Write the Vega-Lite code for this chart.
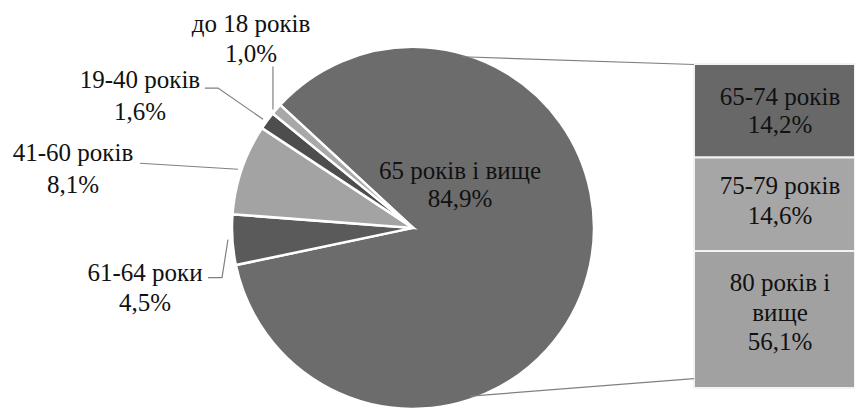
{
  "$schema": "https://vega.github.io/schema/vega-lite/v6.json",
  "width": 855,
  "height": 410,
  "padding": 0,
  "autosize": {"type": "fit", "contains": "padding"},
  "background": "white",
  "config": {
    "view": {"stroke": null},
    "locale": {"number": {"decimal": ",", "thousands": " ", "grouping": [3], "currency": ["", ""]}},
    "text": {"font": "Times New Roman, Liberation Serif, serif", "fontSize": 25, "color": "#111111", "baseline": "alphabetic", "align": "center"}
  },
  "datasets": {
    "pie": [
      {"group": "65 років і вище", "share": 0.849, "k": 1, "lx": 26.1, "ly": 27.8, "vy": 11.7},
      {"group": "61-64 роки", "share": 0.045, "k": 2, "lx": -148.9, "ly": -30.0, "vy": -47.2},
      {"group": "41-60 років", "share": 0.081, "k": 3, "lx": -188.9, "ly": 37.8, "vy": 20.0},
      {"group": "19-40 років", "share": 0.016, "k": 4, "lx": -151.7, "ly": 79.4, "vy": 61.1},
      {"group": "до 18 років", "share": 0.010, "k": 5, "lx": -90.0, "ly": 111.1, "vy": 94.4}
    ],
    "bar": [
      {"group": "65-74 років", "share": 0.142, "k": 1, "lx": 203.9, "ly": 70.0, "vy": 53.9},
      {"group": "75-79 років", "share": 0.146, "k": 2, "lx": 203.9, "ly": 19.4, "vy": 2.2},
      {"group": "80 років і\nвище", "share": 0.561, "k": 3, "lx": 203.9, "ly": -36.1, "vy": -69.4}
    ],
    "leaders": [
      {"line": "до 18", "k": 1, "x": -77.8, "y": 91.7},
      {"line": "до 18", "k": 2, "x": -77.8, "y": 67.2},
      {"line": "19-40", "k": 1, "x": -115.6, "y": 79.4},
      {"line": "19-40", "k": 2, "x": -108.3, "y": 79.4},
      {"line": "19-40", "k": 3, "x": -83.3, "y": 61.7},
      {"line": "41-60", "k": 1, "x": -151.7, "y": 36.7},
      {"line": "41-60", "k": 2, "x": -97.2, "y": 33.3},
      {"line": "61-64", "k": 1, "x": -113.9, "y": -28.3},
      {"line": "61-64", "k": 2, "x": -106.1, "y": -28.3},
      {"line": "61-64", "k": 3, "x": -102.8, "y": -6.7},
      {"line": "top", "k": 1, "x": 27.2, "y": 97.2},
      {"line": "top", "k": 2, "x": 156.1, "y": 92.8},
      {"line": "bottom", "k": 1, "x": 31.7, "y": -95.6},
      {"line": "bottom", "k": 2, "x": 156.1, "y": -85.6}
    ]
  },
  "layer": [
    {
      "data": {"name": "bar"},
      "transform": [
        {"stack": "share", "groupby": [], "sort": [{"field": "k", "order": "ascending"}], "as": ["s0", "s1"]}
      ],
      "mark": {"type": "rect", "stroke": "#f2f2f2", "strokeWidth": 2, "clip": true},
      "encoding": {
        "x": {"datum": 156.1, "type": "quantitative", "scale": {"domain": [-229.44, 245.56], "nice": false, "zero": false}, "axis": null},
        "x2": {"datum": 245.56},
        "y": {
          "field": "s0", "type": "quantitative",
          "scale": {"domain": [0, 0.142, 0.288, 0.849], "range": [64, 157.5, 251, 388], "nice": false, "zero": false},
          "axis": null
        },
        "y2": {"field": "s1"},
        "color": {
          "field": "group", "type": "nominal", "legend": null,
          "scale": {"domain": ["65-74 років", "75-79 років", "80 років і\nвище"], "range": ["#686868", "#a6a6a6", "#a1a1a1"]}
        }
      }
    },
    {
      "encoding": {
        "x": {"type": "quantitative", "scale": {"domain": [-229.44, 245.56], "nice": false, "zero": false}, "axis": null},
        "y": {"type": "quantitative", "scale": {"domain": [-98.33, 129.44], "nice": false, "zero": false}, "axis": null}
      },
      "layer": [
        {
          "data": {"name": "pie"},
          "mark": {"type": "arc", "outerRadius": 181, "stroke": "white", "strokeWidth": 2.5},
          "encoding": {
            "x": {"datum": 0, "type": "quantitative"},
            "y": {"datum": 0, "type": "quantitative"},
            "theta": {"field": "share", "type": "quantitative", "stack": true, "scale": {"range": [5.4594, 11.7426]}},
            "order": {"field": "k"},
            "color": {
              "field": "group", "type": "nominal", "legend": null,
              "scale": {
                "domain": ["65 років і вище", "61-64 роки", "41-60 років", "19-40 років", "до 18 років"],
                "range": ["#6c6c6c", "#5a5a5a", "#a3a3a3", "#4d4d4d", "#a8a8a8"]
              }
            }
          }
        },
        {
          "data": {"name": "leaders"},
          "mark": {"type": "line", "color": "#808080", "strokeWidth": 1.2},
          "encoding": {
            "x": {"field": "x", "type": "quantitative"},
            "y": {"field": "y", "type": "quantitative"},
            "detail": {"field": "line"},
            "order": {"field": "k"}
          }
        },
        {
          "data": {"name": "pie"},
          "mark": {"type": "text"},
          "encoding": {
            "x": {"field": "lx", "type": "quantitative"},
            "y": {"field": "ly", "type": "quantitative"},
            "text": {"field": "group"}
          }
        },
        {
          "data": {"name": "pie"},
          "mark": {"type": "text"},
          "encoding": {
            "x": {"field": "lx", "type": "quantitative"},
            "y": {"field": "vy", "type": "quantitative"},
            "text": {"field": "share", "type": "quantitative", "format": ".1%"}
          }
        },
        {
          "data": {"name": "bar"},
          "mark": {"type": "text", "lineBreak": "\n", "lineHeight": 30},
          "encoding": {
            "x": {"field": "lx", "type": "quantitative"},
            "y": {"field": "ly", "type": "quantitative"},
            "text": {"field": "group"}
          }
        },
        {
          "data": {"name": "bar"},
          "mark": {"type": "text"},
          "encoding": {
            "x": {"field": "lx", "type": "quantitative"},
            "y": {"field": "vy", "type": "quantitative"},
            "text": {"field": "share", "type": "quantitative", "format": ".1%"}
          }
        }
      ]
    }
  ],
  "resolve": {"scale": {"y": "independent", "color": "independent"}}
}
